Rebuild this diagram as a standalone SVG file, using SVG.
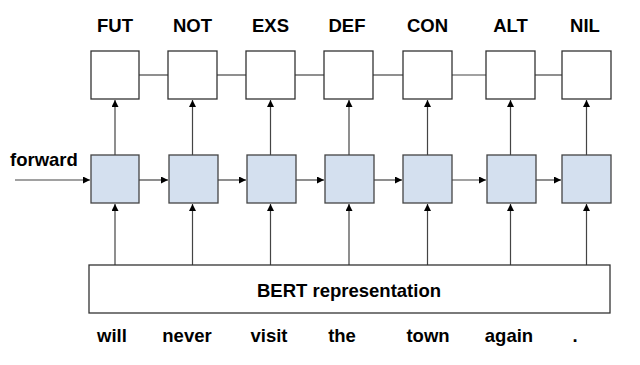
<svg xmlns="http://www.w3.org/2000/svg" width="640" height="365" viewBox="0 0 640 365">
<defs>
<marker id="ah" viewBox="0 0 10 10" refX="10" refY="5" markerWidth="8" markerHeight="7" markerUnits="userSpaceOnUse" orient="auto"><path d="M0,0 L10,5 L0,10 z" fill="#000"/></marker>
<style>
.out{fill:#fff;stroke:#333;stroke-width:1.3}
.hid{fill:#d4e0ef;stroke:#444;stroke-width:1.3}
.bert{fill:#fff;stroke:#333;stroke-width:1.3}
.ln{stroke:#444;stroke-width:1.2;fill:none}
.ar{stroke:#444;stroke-width:1.2;fill:none;marker-end:url(#ah)}
text{font-family:"Liberation Sans",Arial,sans-serif;font-weight:bold;fill:#000}
.lab{font-size:18.5px;text-anchor:middle}
.w{font-size:18.5px;text-anchor:middle}
</style>
</defs>
<rect width="640" height="365" fill="#fff"/>
<g id="connectors">
<line class="ln" x1="139" y1="75" x2="168" y2="75"/>
<line class="ln" x1="217" y1="75" x2="246" y2="75"/>
<line class="ln" x1="295" y1="75" x2="324" y2="75"/>
<line class="ln" x1="373" y1="75" x2="403" y2="75"/>
<line class="ln" x1="452" y1="75" x2="486" y2="75"/>
<line class="ln" x1="535" y1="75" x2="562" y2="75"/>
<line class="ar" x1="115" y1="155" x2="115" y2="100"/>
<line class="ar" x1="192.5" y1="155" x2="192.5" y2="100"/>
<line class="ar" x1="270.5" y1="155" x2="270.5" y2="100"/>
<line class="ar" x1="349" y1="155" x2="349" y2="100"/>
<line class="ar" x1="427.5" y1="155" x2="427.5" y2="100"/>
<line class="ar" x1="510.5" y1="155" x2="510.5" y2="100"/>
<line class="ar" x1="586.5" y1="155" x2="586.5" y2="100"/>
<line class="ar" x1="15" y1="180" x2="90" y2="180"/>
<line class="ar" x1="139" y1="180" x2="168" y2="180"/>
<line class="ar" x1="218" y1="180" x2="246" y2="180"/>
<line class="ar" x1="296" y1="180" x2="324" y2="180"/>
<line class="ar" x1="374" y1="180" x2="402" y2="180"/>
<line class="ar" x1="452" y1="180" x2="486" y2="180"/>
<line class="ar" x1="536" y1="180" x2="561" y2="180"/>
<line class="ar" x1="115" y1="265" x2="115" y2="204"/>
<line class="ar" x1="192.5" y1="265" x2="192.5" y2="204"/>
<line class="ar" x1="270.5" y1="265" x2="270.5" y2="204"/>
<line class="ar" x1="349" y1="265" x2="349" y2="204"/>
<line class="ar" x1="427.5" y1="265" x2="427.5" y2="204"/>
<line class="ar" x1="510.5" y1="265" x2="510.5" y2="204"/>
<line class="ar" x1="586.5" y1="265" x2="586.5" y2="204"/>
</g>
<g id="out1"><rect class="out" x="91" y="51" width="48" height="48"/><text class="lab" x="115" y="32">FUT</text></g>
<g id="out2"><rect class="out" x="168" y="51" width="49" height="48"/><text class="lab" x="192.5" y="32">NOT</text></g>
<g id="out3"><rect class="out" x="246" y="51" width="49" height="48"/><text class="lab" x="270.5" y="32">EXS</text></g>
<g id="out4"><rect class="out" x="324" y="51" width="49" height="48"/><text class="lab" x="347" y="32">DEF</text></g>
<g id="out5"><rect class="out" x="403" y="51" width="49" height="48"/><text class="lab" x="427.5" y="32">CON</text></g>
<g id="out6"><rect class="out" x="486" y="51" width="49" height="48"/><text class="lab" x="510.5" y="32">ALT</text></g>
<g id="out7"><rect class="out" x="562" y="51" width="49" height="48"/><text class="lab" x="585" y="32">NIL</text></g>
<g id="hid1"><rect class="hid" x="91" y="155" width="48" height="48"/></g>
<g id="hid2"><rect class="hid" x="169" y="155" width="49" height="48"/></g>
<g id="hid3"><rect class="hid" x="247" y="155" width="49" height="48"/></g>
<g id="hid4"><rect class="hid" x="325" y="155" width="49" height="48"/></g>
<g id="hid5"><rect class="hid" x="403" y="155" width="49" height="48"/></g>
<g id="hid6"><rect class="hid" x="487" y="155" width="49" height="48"/></g>
<g id="hid7"><rect class="hid" x="562" y="155" width="49" height="48"/></g>
<g id="forward"><text x="10" y="166" font-size="18.5">forward</text></g>
<g id="bert"><rect class="bert" x="89" y="265" width="521" height="48"/><text class="lab" x="349" y="297">BERT representation</text></g>
<g id="words">
<text class="w" x="112" y="342">will</text>
<text class="w" x="187" y="342">never</text>
<text class="w" x="269" y="342">visit</text>
<text class="w" x="342" y="342">the</text>
<text class="w" x="428" y="342">town</text>
<text class="w" x="509" y="342">again</text>
<text class="w" x="575" y="342">.</text>
</g>
</svg>
